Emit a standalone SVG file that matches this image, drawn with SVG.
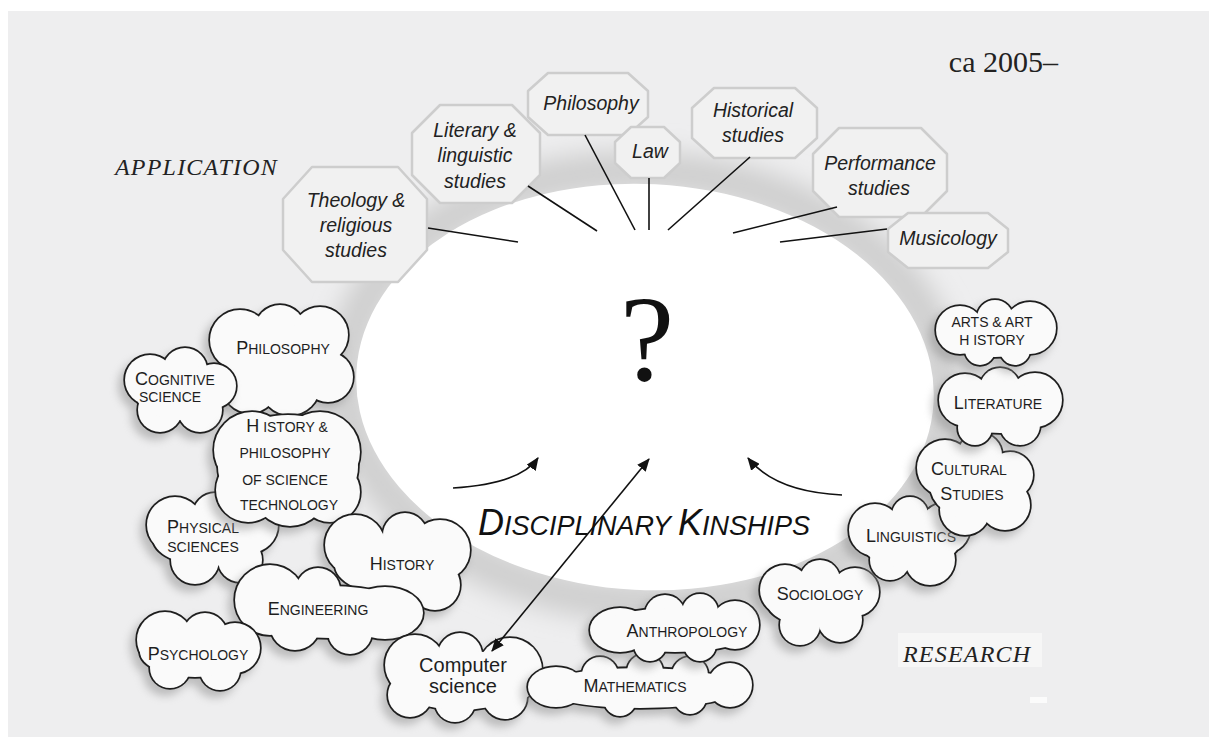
<svg xmlns="http://www.w3.org/2000/svg" xmlns:xlink="http://www.w3.org/1999/xlink" width="1209" height="737" viewBox="0 0 1209 737">
<style>
.oct{fill:#f1f1f1;stroke:#cdcdcd;stroke-width:2.5;stroke-linejoin:round}
.ot{font-family:"Liberation Sans",Arial,sans-serif;font-style:italic;font-size:19.5px;fill:#222;text-anchor:middle}
.sh{fill:#8c8c8c;stroke:#8c8c8c;stroke-width:4;opacity:.5;filter:url(#blur)}
.ol{fill:#1e1e1e;stroke:#1e1e1e;stroke-width:3.4}
.fl{fill:#fafafa;stroke:none}
.sc{font-family:"Liberation Sans",Arial,sans-serif;font-size:14px;fill:#1e1e1e;text-anchor:middle}
.b{font-size:18px}
.cs{font-family:"Liberation Sans",Arial,sans-serif;font-size:20px;fill:#1e1e1e;text-anchor:middle}
.ln{stroke:#111;stroke-width:1.6;fill:none}
.ar{stroke:#111;stroke-width:1.6;fill:none}
.lab{font-family:"Liberation Serif","Times New Roman",serif;font-style:italic;font-size:24px;letter-spacing:1.2px;fill:#222}
</style>
<defs>
<filter id="blur" x="-20%" y="-20%" width="140%" height="140%"><feGaussianBlur stdDeviation="4"/></filter>
<filter id="halo" x="-20%" y="-20%" width="140%" height="140%"><feGaussianBlur stdDeviation="12"/></filter>
<marker id="ah" viewBox="0 0 12 10" refX="11" refY="5" markerWidth="13" markerHeight="11" markerUnits="userSpaceOnUse" orient="auto-start-reverse"><path d="M0,0 L12,5 L0,10 Z" fill="#111"/></marker>
<g id="k-phil"><circle cx="240" cy="340" r="30"/><circle cx="280" cy="330" r="25"/><circle cx="320" cy="335" r="28"/><circle cx="328" cy="377" r="25"/><circle cx="290" cy="385" r="30"/><circle cx="250" cy="385" r="28"/><ellipse cx="285" cy="360" rx="55" ry="35"/></g>
<g id="k-cog"><circle cx="150" cy="380" r="25"/><circle cx="185" cy="370" r="22"/><circle cx="214" cy="386" r="22"/><circle cx="200" cy="410" r="22"/><circle cx="160" cy="410" r="22"/><ellipse cx="180" cy="392" rx="45" ry="28"/></g>
<g id="k-hpst"><circle cx="252" cy="450" r="38"/><circle cx="320" cy="452" r="40"/><circle cx="290" cy="488" r="38"/><circle cx="248" cy="490" r="32"/><circle cx="330" cy="492" r="30"/><ellipse cx="288" cy="467" rx="70" ry="52"/></g>
<g id="k-phys"><circle cx="175" cy="525" r="28"/><circle cx="215" cy="515" r="22"/><circle cx="250" cy="525" r="28"/><circle cx="240" cy="560" r="22"/><circle cx="195" cy="560" r="24"/><ellipse cx="208" cy="538" rx="55" ry="28"/></g>
<g id="k-hist"><circle cx="355" cy="545" r="30"/><circle cx="405" cy="535" r="22"/><circle cx="440" cy="550" r="30"/><circle cx="435" cy="585" r="25"/><circle cx="380" cy="585" r="25"/><ellipse cx="395" cy="565" rx="60" ry="30"/></g>
<g id="k-eng"><circle cx="270" cy="600" r="35"/><circle cx="318" cy="590" r="22"/><ellipse cx="385" cy="613" rx="38" ry="26"/><circle cx="350" cy="632" r="22"/><circle cx="295" cy="625" r="25"/><ellipse cx="330" cy="612" rx="80" ry="26"/></g>
<g id="k-psy"><circle cx="165" cy="640" r="28"/><circle cx="205" cy="635" r="22"/><circle cx="235" cy="648" r="25"/><circle cx="220" cy="670" r="20"/><circle cx="170" cy="668" r="20"/><ellipse cx="195" cy="652" rx="55" ry="25"/></g>
<g id="k-cs"><circle cx="415" cy="665" r="30"/><circle cx="460" cy="655" r="22"/><circle cx="510" cy="670" r="32"/><circle cx="505" cy="697" r="22"/><circle cx="455" cy="702" r="20"/><circle cx="410" cy="695" r="22"/><ellipse cx="460" cy="680" rx="65" ry="30"/></g>
<g id="k-math"><ellipse cx="556" cy="687" rx="28" ry="20"/><circle cx="600" cy="675" r="18"/><circle cx="645" cy="672" r="18"/><circle cx="690" cy="675" r="18"/><circle cx="730" cy="685" r="22"/><circle cx="690" cy="698" r="16"/><circle cx="620" cy="700" r="16"/><ellipse cx="640" cy="688" rx="100" ry="20"/></g>
<g id="k-anth"><ellipse cx="620" cy="630" rx="30" ry="22"/><circle cx="665" cy="615" r="20"/><circle cx="700" cy="612" r="18"/><circle cx="735" cy="625" r="24"/><circle cx="700" cy="645" r="16"/><circle cx="650" cy="645" r="16"/><ellipse cx="675" cy="630" rx="80" ry="22"/></g>
<g id="k-soc"><circle cx="785" cy="590" r="25"/><circle cx="820" cy="580" r="20"/><circle cx="855" cy="592" r="24"/><circle cx="840" cy="620" r="22"/><circle cx="800" cy="625" r="20"/><ellipse cx="817" cy="602" rx="50" ry="25"/></g>
<g id="k-ling"><circle cx="875" cy="530" r="26"/><circle cx="910" cy="515" r="18"/><circle cx="945" cy="528" r="25"/><circle cx="930" cy="560" r="25"/><circle cx="890" cy="560" r="20"/><ellipse cx="910" cy="540" rx="50" ry="28"/></g>
<g id="k-cult"><circle cx="945" cy="468" r="28"/><circle cx="980" cy="455" r="22"/><circle cx="1010" cy="475" r="23"/><circle cx="1005" cy="505" r="25"/><circle cx="965" cy="510" r="25"/><ellipse cx="975" cy="485" rx="45" ry="35"/></g>
<g id="k-lit"><circle cx="965" cy="400" r="26"/><circle cx="1000" cy="388" r="20"/><circle cx="1035" cy="400" r="27"/><circle cx="1020" cy="425" r="20"/><circle cx="975" cy="428" r="17"/><ellipse cx="1000" cy="408" rx="55" ry="25"/></g>
<g id="k-arts"><circle cx="960" cy="330" r="24"/><circle cx="995" cy="318" r="18"/><circle cx="1030" cy="328" r="26"/><circle cx="1015" cy="350" r="15"/><circle cx="980" cy="350" r="15"/><ellipse cx="995" cy="335" rx="55" ry="22"/></g>
</defs>

<rect x="0" y="0" width="1209" height="737" fill="#ffffff"/>
<rect x="8" y="11" width="1201" height="726" fill="#eeeeef"/>

<!-- central ellipse -->
<g id="center">
<ellipse cx="645" cy="387" rx="300" ry="216" fill="none" stroke="#cfcfcf" stroke-width="40" filter="url(#halo)" transform="rotate(3 645 387)"/>
<ellipse cx="645" cy="387" rx="289" ry="203" fill="#ffffff" transform="rotate(3 645 387)"/>
<text x="647" y="380" font-family="Liberation Serif,'Times New Roman',serif" font-size="122" fill="#111" text-anchor="middle">?</text>
<text x="644" y="535" font-family="Liberation Sans,Arial,sans-serif" font-style="italic" font-size="27" fill="#111" text-anchor="middle"><tspan font-size="36">D</tspan>ISCIPLINARY <tspan font-size="36">K</tspan>INSHIPS</text>
</g>

<text x="1058" y="72" font-family="Liberation Serif,'Times New Roman',serif" font-size="30" fill="#222" text-anchor="end">ca 2005–</text>
<text x="115" y="175" class="lab">APPLICATION</text>
<rect x="898" y="633" width="144" height="34" fill="#f6f6f6"/>
<text x="903" y="662" class="lab">RESEARCH</text>
<rect x="1030" y="697" width="17" height="6" fill="#fbfbfb"/>

<!-- octagon nodes -->
<g id="oct-theology"><polygon class="oct" points="312,167 398,167 427,199 427,250 398,282 312,282 283,250 283,199"/>
<text class="ot" x="356" y="207">Theology &amp;</text><text class="ot" x="356" y="232">religious</text><text class="ot" x="356" y="257">studies</text></g>
<g id="oct-literary"><polygon class="oct" points="440,105 512,105 540,133 540,175 512,203 440,203 412,175 412,133"/>
<text class="ot" x="475" y="137">Literary &amp;</text><text class="ot" x="475" y="162">linguistic</text><text class="ot" x="475" y="188">studies</text></g>
<g id="oct-philosophy"><polygon class="oct" points="548,73 628,73 648,91 648,117 628,135 548,135 528,117 528,91"/>
<text class="ot" x="591" y="110">Philosophy</text></g>
<g id="oct-law"><polygon class="oct" points="631,127 664,127 680,142 680,163 664,178 631,178 615,163 615,142"/>
<text class="ot" x="650" y="158">Law</text></g>
<g id="oct-historical"><polygon class="oct" points="714,88 795,88 817,108 817,138 795,158 714,158 692,138 692,108"/>
<text class="ot" x="753" y="117">Historical</text><text class="ot" x="753" y="142">studies</text></g>
<g id="oct-performance"><polygon class="oct" points="839,128 921,128 947,154 947,191 921,217 839,217 813,191 813,154"/>
<text class="ot" x="880" y="170">Performance</text><text class="ot" x="879" y="195">studies</text></g>
<g id="oct-musicology"><polygon class="oct" points="908,213 988,213 1008,229 1008,252 988,268 908,268 888,252 888,229"/>
<text class="ot" x="948" y="245">Musicology</text></g>

<!-- cloud nodes -->
<g id="cloud-philosophy"><use href="#k-phil" class="sh" x="-5" y="6"/><use href="#k-phil" class="ol"/><use href="#k-phil" class="fl"/>
<text class="sc" x="283" y="354"><tspan class="b">P</tspan>HILOSOPHY</text></g>
<g id="cloud-cognitive"><use href="#k-cog" class="sh" x="-5" y="6"/><use href="#k-cog" class="ol"/><use href="#k-cog" class="fl"/>
<text class="sc" x="175" y="385"><tspan class="b">C</tspan>OGNITIVE</text><text class="sc" x="170" y="402">SCIENCE</text></g>
<g id="cloud-physical"><use href="#k-phys" class="sh" x="-5" y="6"/><use href="#k-phys" class="ol"/><use href="#k-phys" class="fl"/>
<text class="sc" x="203" y="533"><tspan class="b">P</tspan>HYSICAL</text><text class="sc" x="203" y="552">SCIENCES</text></g>
<g id="cloud-hpst"><use href="#k-hpst" class="sh" x="-5" y="6"/><use href="#k-hpst" class="ol"/><use href="#k-hpst" class="fl"/>
<text class="sc" x="287" y="432"><tspan class="b">H</tspan> ISTORY &amp;</text><text class="sc" x="285" y="458">PHILOSOPHY</text><text class="sc" x="285" y="485">OF SCIENCE</text><text class="sc" x="289" y="510">TECHNOLOGY</text></g>
<g id="cloud-history"><use href="#k-hist" class="sh" x="-5" y="6"/><use href="#k-hist" class="ol"/><use href="#k-hist" class="fl"/>
<text class="sc" x="402" y="570"><tspan class="b">H</tspan>ISTORY</text></g>
<g id="cloud-engineering"><use href="#k-eng" class="sh" x="-5" y="6"/><use href="#k-eng" class="ol"/><use href="#k-eng" class="fl"/>
<text class="sc" x="318" y="615"><tspan class="b">E</tspan>NGINEERING</text></g>
<g id="cloud-psychology"><use href="#k-psy" class="sh" x="-5" y="6"/><use href="#k-psy" class="ol"/><use href="#k-psy" class="fl"/>
<text class="sc" x="198" y="660"><tspan class="b">P</tspan>SYCHOLOGY</text></g>
<g id="cloud-computer"><use href="#k-cs" class="sh" x="-5" y="6"/><use href="#k-cs" class="ol"/><use href="#k-cs" class="fl"/>
<text class="cs" x="463" y="672">Computer</text><text class="cs" x="463" y="693">science</text></g>
<g id="cloud-mathematics"><use href="#k-math" class="sh" x="-5" y="6"/><use href="#k-math" class="ol"/><use href="#k-math" class="fl"/>
<text class="sc" x="635" y="692"><tspan class="b">M</tspan>ATHEMATICS</text></g>
<g id="cloud-anthropology"><use href="#k-anth" class="sh" x="-5" y="6"/><use href="#k-anth" class="ol"/><use href="#k-anth" class="fl"/>
<text class="sc" x="687" y="637"><tspan class="b">A</tspan>NTHROPOLOGY</text></g>
<g id="cloud-sociology"><use href="#k-soc" class="sh" x="-5" y="6"/><use href="#k-soc" class="ol"/><use href="#k-soc" class="fl"/>
<text class="sc" x="820" y="600"><tspan class="b">S</tspan>OCIOLOGY</text></g>
<g id="cloud-linguistics"><use href="#k-ling" class="sh" x="-5" y="6"/><use href="#k-ling" class="ol"/><use href="#k-ling" class="fl"/>
<text class="sc" x="911" y="542"><tspan class="b">L</tspan>INGUISTICS</text></g>
<g id="cloud-cultural"><use href="#k-cult" class="sh" x="-5" y="6"/><use href="#k-cult" class="ol"/><use href="#k-cult" class="fl"/>
<text class="sc" x="969" y="475"><tspan class="b">C</tspan>ULTURAL</text><text class="sc" x="972" y="500"><tspan class="b">S</tspan>TUDIES</text></g>
<g id="cloud-literature"><use href="#k-lit" class="sh" x="-5" y="6"/><use href="#k-lit" class="ol"/><use href="#k-lit" class="fl"/>
<text class="sc" x="998" y="409"><tspan class="b">L</tspan>ITERATURE</text></g>
<g id="cloud-arts"><use href="#k-arts" class="sh" x="-5" y="6"/><use href="#k-arts" class="ol"/><use href="#k-arts" class="fl"/>
<text class="sc" x="992" y="327" font-size="11"><tspan font-size="14">A</tspan>RTS &amp; <tspan font-size="14">A</tspan>RT</text><text class="sc" x="992" y="345" font-size="11"><tspan font-size="14">H</tspan> ISTORY</text></g>

<!-- connectors -->
<g id="connectors">
<line class="ln" x1="428" y1="228" x2="518" y2="242"/>
<line class="ln" x1="528" y1="186" x2="597" y2="231"/>
<line class="ln" x1="585" y1="135" x2="635" y2="230"/>
<line class="ln" x1="649" y1="178" x2="649" y2="230"/>
<line class="ln" x1="750" y1="157" x2="668" y2="230"/>
<line class="ln" x1="837" y1="207" x2="733" y2="233"/>
<line class="ln" x1="887" y1="229" x2="780" y2="242"/>
<path class="ar" d="M453,488 Q520,484 538,458" marker-end="url(#ah)"/>
<path class="ar" d="M842,495 Q775,492 748,458" marker-end="url(#ah)"/>
<line class="ar" x1="649" y1="459" x2="492" y2="651" marker-start="url(#ah)" marker-end="url(#ah)"/>
</g>
</svg>
